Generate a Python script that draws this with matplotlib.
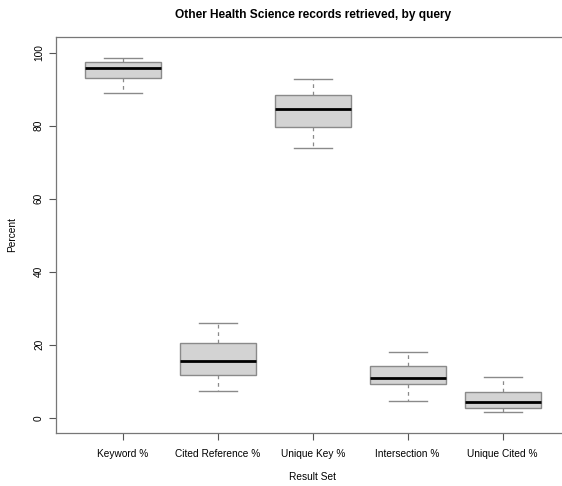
import matplotlib.pyplot as plt

plt.rcParams['font.family'] = ['Liberation Sans', 'DejaVu Sans']

# five-number summaries per result set (percent)
categories = ['Keyword %', 'Cited Reference %', 'Unique Key %', 'Intersection %', 'Unique Cited %']
whisker_low = [89.0, 7.2, 74.0, 4.5, 1.5]
q1 = [93.1, 11.7, 79.6, 9.2, 2.7]
median = [95.7, 15.5, 84.5, 11.0, 4.4]
q3 = [97.4, 20.4, 88.3, 14.2, 7.0]
whisker_high = [98.6, 26.0, 92.9, 18.1, 11.1]
y_ticks = [0, 20, 40, 60, 80, 100]

stats = []
for name, lo, a, m, b, hi in zip(categories, whisker_low, q1, median, q3, whisker_high):
    stats.append({'label': name, 'whislo': lo, 'q1': a, 'med': m, 'q3': b, 'whishi': hi, 'fliers': []})

fig = plt.figure(figsize=(5.62, 4.86), dpi=100)
ax = fig.add_axes([0.1005, 0.1097, 0.912, 0.8136])

edge = '#8a8a8a'
ax.bxp(stats, positions=range(1, 6), widths=0.8, patch_artist=True,
       showfliers=False,
       boxprops=dict(facecolor='#d3d3d3', edgecolor=edge, linewidth=1.0),
       medianprops=dict(color='black', linewidth=2.0),
       whiskerprops=dict(color=edge, linestyle=(0, (3, 3)), linewidth=0.9),
       capprops=dict(color=edge, linewidth=1.0),
       capwidths=0.4)

ax.set_xlim(0.3, 5.7)
ax.set_ylim(-4.1, 104.2)
ax.set_yticks(y_ticks)
ax.set_yticklabels([str(v) for v in y_ticks], rotation=90, va='center')
ax.set_xticks(range(1, 6))
ax.set_xticklabels(categories)
ax.tick_params(axis='both', labelsize=7.3, length=5, color='#555555')
ax.tick_params(axis='x', pad=7)
ax.tick_params(axis='y', pad=4)
for s in ax.spines.values():
    s.set_color('#777777')
    s.set_linewidth(0.9)

ax.set_xlabel('Result Set', fontsize=7.3, labelpad=9)
ax.set_ylabel('Percent', fontsize=7.3, labelpad=12)
fig.text(0.557, 0.969, 'Other Health Science records retrieved, by query',
         ha='center', va='center', fontsize=8.6, fontweight='bold')

fig.savefig('out.png', dpi=100)
